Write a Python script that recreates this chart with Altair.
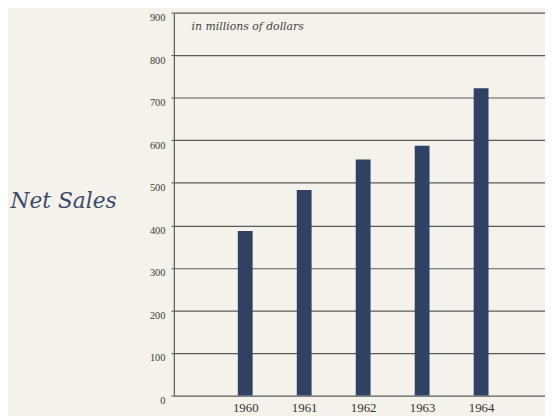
import altair as alt
import pandas as pd

years = [1960, 1961, 1962, 1963, 1964]
net_sales = [387, 483, 555, 587, 722]
y_ticks = [0, 100, 200, 300, 400, 500, 600, 700, 800, 900]
note = ["in millions of dollars"]

df = pd.DataFrame({"year": years, "sales": net_sales})
note_df = pd.DataFrame({"t": note})

SERIF = "Liberation Serif"
SERIF2 = "DejaVu Serif"
BAR = "#2f4263"
GRID = "#5a5a58"
BG = "#f4f2ea"

bars = alt.Chart(df).mark_bar(color=BAR, size=15).encode(
    x=alt.X("year:Q",
            scale=alt.Scale(domain=[1958.873, 1965.0], nice=False, zero=False),
            axis=alt.Axis(values=years, format="d", grid=False, ticks=False,
                          domain=False, title=None, labelFont=SERIF,
                          labelFontSize=13, labelColor="#333333", labelPadding=6)),
    y=alt.Y("sales:Q",
            scale=alt.Scale(domain=[0, 900], nice=False),
            axis=alt.Axis(values=y_ticks, grid=True, gridColor=GRID, gridWidth=1.2,
                          gridOpacity=1, domain=True, domainColor=GRID, domainWidth=1.2,
                          ticks=True, tickSize=3, tickColor=GRID,
                          labelFont=SERIF, labelFontSize=10.5, labelColor="#3a3a3a",
                          labelOffset=5, labelPadding=6,
                          title="Net Sales", titleAngle=0, titleFont=SERIF2,
                          titleFontStyle="italic", titleFontWeight="normal",
                          titleFontSize=22, titleColor="#3b4a6a",
                          titleX=-166, titleY=190, titleAlign="left",
                          titleBaseline="middle")),
)

label = alt.Chart(note_df).mark_text(
    font=SERIF2, fontStyle="italic", fontSize=11, color="#444444",
    align="left", baseline="middle"
).encode(text="t:N", x=alt.value(18), y=alt.value(15))

chart = alt.layer(bars, label).properties(
    width=376, height=388,
    autosize=alt.AutoSizeParams(type="none"),
    padding={"left": 168, "top": 2, "right": 0, "bottom": 18},
    background=BG,
).configure_view(stroke=None)

chart.save("out.html", embed_options={"renderer": "svg", "actions": False})
